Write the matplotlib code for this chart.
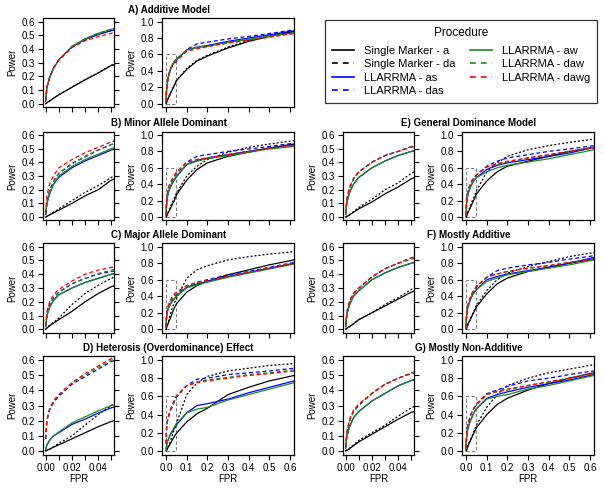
import matplotlib
matplotlib.use("Agg")
import matplotlib.pyplot as plt
from matplotlib.lines import Line2D
from matplotlib.patches import Rectangle

plt.rcParams['font.family'] = ['Liberation Sans', 'DejaVu Sans']

W, H = 604, 488

FPR = [0, 0.001, 0.003, 0.006, 0.01, 0.02, 0.03, 0.04, 0.05,
       0.1, 0.15, 0.2, 0.3, 0.4, 0.5, 0.62]

PROCEDURES = ["Single Marker - a", "Single Marker - da", "LLARRMA - as",
              "LLARRMA - das", "LLARRMA - aw", "LLARRMA - daw", "LLARRMA - dawg"]

# rows: a, da, as, das, aw, daw, dawg
POWER_A = [
    [0, 0.008, 0.02, 0.04, 0.065, 0.12, 0.175, 0.225, 0.28, 0.42, 0.52, 0.58, 0.68, 0.76, 0.82, 0.88],
    [0, 0.008, 0.02, 0.04, 0.066, 0.121, 0.176, 0.226, 0.282, 0.43, 0.53, 0.59, 0.69, 0.77, 0.83, 0.88],
    [0.02, 0.12, 0.19, 0.26, 0.32, 0.415, 0.47, 0.505, 0.535, 0.655, 0.69, 0.71, 0.76, 0.80, 0.84, 0.89],
    [0.02, 0.12, 0.19, 0.26, 0.32, 0.415, 0.47, 0.51, 0.535, 0.66, 0.73, 0.75, 0.79, 0.82, 0.855, 0.90],
    [0.02, 0.12, 0.19, 0.26, 0.32, 0.42, 0.475, 0.515, 0.545, 0.655, 0.685, 0.70, 0.75, 0.785, 0.82, 0.865],
    [0.02, 0.12, 0.19, 0.26, 0.32, 0.42, 0.475, 0.515, 0.545, 0.65, 0.68, 0.70, 0.74, 0.78, 0.82, 0.86],
    [0.02, 0.12, 0.19, 0.26, 0.32, 0.41, 0.46, 0.49, 0.515, 0.64, 0.67, 0.695, 0.74, 0.775, 0.81, 0.855],
]
POWER_B = [
    [0, 0.005, 0.015, 0.03, 0.05, 0.10, 0.155, 0.20, 0.27, 0.45, 0.58, 0.66, 0.74, 0.79, 0.84, 0.89],
    [0, 0.006, 0.018, 0.035, 0.06, 0.12, 0.18, 0.23, 0.29, 0.50, 0.62, 0.70, 0.79, 0.85, 0.89, 0.93],
    [0.02, 0.10, 0.17, 0.24, 0.29, 0.36, 0.41, 0.45, 0.49, 0.64, 0.69, 0.72, 0.76, 0.80, 0.84, 0.88],
    [0.02, 0.11, 0.19, 0.26, 0.32, 0.39, 0.44, 0.49, 0.53, 0.67, 0.74, 0.76, 0.80, 0.83, 0.86, 0.90],
    [0.02, 0.10, 0.17, 0.24, 0.30, 0.37, 0.42, 0.46, 0.50, 0.64, 0.68, 0.71, 0.75, 0.79, 0.83, 0.86],
    [0.02, 0.11, 0.19, 0.26, 0.32, 0.39, 0.445, 0.49, 0.53, 0.66, 0.70, 0.72, 0.76, 0.80, 0.84, 0.87],
    [0.03, 0.16, 0.24, 0.30, 0.36, 0.42, 0.47, 0.51, 0.55, 0.67, 0.70, 0.72, 0.76, 0.80, 0.84, 0.87],
]
POWER_C = [
    [0, 0.01, 0.025, 0.045, 0.07, 0.13, 0.20, 0.26, 0.31, 0.45, 0.53, 0.58, 0.66, 0.72, 0.78, 0.84],
    [0, 0.01, 0.03, 0.05, 0.08, 0.18, 0.26, 0.32, 0.37, 0.62, 0.72, 0.77, 0.84, 0.88, 0.91, 0.94],
    [0.02, 0.10, 0.16, 0.21, 0.25, 0.30, 0.34, 0.37, 0.40, 0.51, 0.55, 0.58, 0.64, 0.69, 0.74, 0.80],
    [0.02, 0.11, 0.18, 0.23, 0.27, 0.33, 0.37, 0.40, 0.42, 0.52, 0.57, 0.60, 0.66, 0.70, 0.75, 0.81],
    [0.02, 0.10, 0.16, 0.21, 0.25, 0.30, 0.34, 0.37, 0.40, 0.50, 0.54, 0.57, 0.63, 0.68, 0.73, 0.79],
    [0.02, 0.11, 0.18, 0.23, 0.27, 0.33, 0.37, 0.405, 0.43, 0.52, 0.56, 0.59, 0.64, 0.69, 0.74, 0.80],
    [0.03, 0.13, 0.20, 0.25, 0.29, 0.35, 0.40, 0.43, 0.45, 0.53, 0.57, 0.59, 0.64, 0.69, 0.74, 0.80],
]
POWER_D = [
    [0, 0.004, 0.012, 0.025, 0.04, 0.08, 0.12, 0.16, 0.195, 0.32, 0.41, 0.47, 0.62, 0.70, 0.77, 0.83],
    [0, 0.004, 0.012, 0.028, 0.05, 0.10, 0.17, 0.24, 0.30, 0.62, 0.75, 0.82, 0.88, 0.91, 0.94, 0.96],
    [0.01, 0.04, 0.07, 0.10, 0.12, 0.175, 0.21, 0.25, 0.285, 0.42, 0.50, 0.52, 0.57, 0.64, 0.70, 0.77],
    [0.08, 0.20, 0.27, 0.32, 0.36, 0.44, 0.49, 0.54, 0.59, 0.72, 0.79, 0.80, 0.84, 0.86, 0.88, 0.91],
    [0.01, 0.04, 0.07, 0.10, 0.125, 0.185, 0.225, 0.265, 0.30, 0.42, 0.46, 0.48, 0.56, 0.62, 0.68, 0.75],
    [0.08, 0.20, 0.27, 0.33, 0.37, 0.45, 0.50, 0.55, 0.60, 0.72, 0.76, 0.78, 0.81, 0.84, 0.86, 0.89],
    [0.08, 0.21, 0.28, 0.33, 0.37, 0.45, 0.51, 0.56, 0.61, 0.72, 0.75, 0.77, 0.80, 0.83, 0.85, 0.88],
]
POWER_E = [
    [0, 0.005, 0.015, 0.035, 0.06, 0.11, 0.17, 0.22, 0.28, 0.44, 0.55, 0.62, 0.68, 0.74, 0.80, 0.85],
    [0, 0.006, 0.018, 0.04, 0.07, 0.13, 0.20, 0.25, 0.32, 0.55, 0.66, 0.74, 0.82, 0.87, 0.91, 0.95],
    [0.02, 0.11, 0.18, 0.24, 0.29, 0.36, 0.41, 0.45, 0.48, 0.58, 0.63, 0.66, 0.70, 0.74, 0.78, 0.85],
    [0.02, 0.13, 0.21, 0.28, 0.33, 0.40, 0.45, 0.48, 0.515, 0.62, 0.68, 0.72, 0.76, 0.80, 0.83, 0.87],
    [0.02, 0.11, 0.18, 0.24, 0.29, 0.36, 0.41, 0.45, 0.48, 0.55, 0.60, 0.63, 0.67, 0.71, 0.76, 0.82],
    [0.02, 0.13, 0.21, 0.28, 0.33, 0.40, 0.45, 0.48, 0.515, 0.61, 0.64, 0.67, 0.72, 0.76, 0.80, 0.85],
    [0.03, 0.14, 0.22, 0.28, 0.33, 0.40, 0.45, 0.48, 0.51, 0.61, 0.65, 0.68, 0.72, 0.76, 0.80, 0.84],
]
POWER_F = [
    [0, 0.008, 0.02, 0.04, 0.07, 0.12, 0.17, 0.22, 0.27, 0.43, 0.55, 0.62, 0.70, 0.75, 0.80, 0.85],
    [0, 0.008, 0.02, 0.04, 0.07, 0.12, 0.18, 0.23, 0.29, 0.47, 0.60, 0.68, 0.76, 0.82, 0.88, 0.93],
    [0.02, 0.11, 0.18, 0.24, 0.28, 0.36, 0.41, 0.45, 0.48, 0.60, 0.64, 0.67, 0.71, 0.75, 0.80, 0.87],
    [0.02, 0.12, 0.20, 0.26, 0.30, 0.38, 0.44, 0.48, 0.52, 0.63, 0.71, 0.74, 0.78, 0.81, 0.85, 0.89],
    [0.02, 0.11, 0.18, 0.24, 0.28, 0.36, 0.41, 0.45, 0.48, 0.58, 0.62, 0.66, 0.70, 0.74, 0.78, 0.84],
    [0.02, 0.12, 0.20, 0.26, 0.30, 0.38, 0.44, 0.48, 0.52, 0.63, 0.67, 0.70, 0.74, 0.77, 0.81, 0.85],
    [0.03, 0.13, 0.21, 0.26, 0.30, 0.38, 0.44, 0.48, 0.51, 0.63, 0.67, 0.70, 0.74, 0.77, 0.81, 0.85],
]
POWER_G = [
    [0, 0.005, 0.015, 0.035, 0.06, 0.11, 0.16, 0.21, 0.255, 0.40, 0.51, 0.58, 0.67, 0.74, 0.80, 0.86],
    [0, 0.006, 0.018, 0.04, 0.07, 0.12, 0.17, 0.23, 0.285, 0.48, 0.62, 0.72, 0.80, 0.86, 0.90, 0.95],
    [0.02, 0.10, 0.16, 0.22, 0.26, 0.33, 0.38, 0.43, 0.465, 0.58, 0.62, 0.65, 0.70, 0.74, 0.78, 0.84],
    [0.02, 0.12, 0.20, 0.26, 0.30, 0.38, 0.44, 0.48, 0.515, 0.63, 0.67, 0.71, 0.77, 0.80, 0.84, 0.88],
    [0.02, 0.10, 0.16, 0.22, 0.26, 0.33, 0.38, 0.43, 0.465, 0.57, 0.60, 0.62, 0.68, 0.72, 0.77, 0.83],
    [0.02, 0.12, 0.20, 0.26, 0.30, 0.38, 0.44, 0.48, 0.515, 0.62, 0.65, 0.67, 0.72, 0.76, 0.80, 0.85],
    [0.03, 0.13, 0.21, 0.27, 0.31, 0.38, 0.44, 0.48, 0.51, 0.62, 0.66, 0.68, 0.72, 0.76, 0.80, 0.85],
]

TITLES = {
    "A": "A) Additive Model", "B": "B) Minor Allele Dominant",
    "C": "C) Major Allele Dominant", "D": "D) Heterosis (Overdominance) Effect",
    "E": "E) General Dominance Model", "F": "F) Mostly Additive",
    "G": "G) Mostly Non-Additive",
}

COLORS = ["black", "black", "#0000FF", "#0000FF", "#1E8B1E", "#1E8B1E", "#FF0000"]
STYLES = ["-", ":", "-", "--", "-", "--", "--"]

# pixel layout: rows (top, bottom), column x offsets
ROWS = [(18.4, 107.0), (131.7, 220.3), (243.4, 332.6), (356.4, 454.6)]
COL_X = [0, 300]
FS = 7


def px_axes(x0, x1, top, bottom):
    return fig.add_axes([x0 / W, 1 - bottom / H, (x1 - x0) / W, (bottom - top) / H])


def style_axis(ax, show_x):
    for s in ax.spines.values():
        s.set_linewidth(0.9)
    ax.tick_params(direction="out", length=3.5, width=0.8, labelsize=FS, pad=2.5)
    if not show_x:
        ax.tick_params(axis="x", labelbottom=False)


def draw_curves(ax, power):
    for vals, c, ls in zip(power, COLORS, STYLES):
        if ls == ":":
            ax.plot(FPR, vals, color=c, lw=0.9, dashes=(1.6, 1.6))
        elif ls == "--":
            ax.plot(FPR, vals, color=c, lw=0.9, dashes=(3.2, 2.2))
        else:
            ax.plot(FPR, vals, color=c, lw=0.9)


def panel(key, power, row, col, show_x):
    top, bottom = ROWS[row]
    off = COL_X[col]
    # small zoomed panel
    ax1 = px_axes(43 + off, 114 + off, top, bottom)
    draw_curves(ax1, power)
    ax1.set_xlim(-0.002, 0.052)
    ax1.set_ylim(-0.024, 0.624)
    ax1.set_xticks([0, 0.01, 0.02, 0.03, 0.04, 0.05])
    ax1.set_xticklabels(["0.00", "", "0.02", "", "0.04", ""])
    ax1.set_yticks([0, 0.1, 0.2, 0.3, 0.4, 0.5, 0.6])
    ax1.set_yticklabels(["0.0", "0.1", "0.2", "0.3", "0.4", "0.5", "0.6"])
    ax1.tick_params(axis="y", right=True)
    style_axis(ax1, show_x)
    ax1.set_ylabel("Power", fontsize=FS, labelpad=3)
    # full panel
    ax2 = px_axes(162 + off, 294 + off, top, bottom)
    draw_curves(ax2, power)
    ax2.add_patch(Rectangle((0, 0), 0.05, 0.6, fill=False, ec="#808080",
                            lw=0.8, ls=(0, (3, 2))))
    ax2.set_xlim(-0.02, 0.62)
    ax2.set_ylim(-0.04, 1.04)
    ax2.set_xticks([0, 0.1, 0.2, 0.3, 0.4, 0.5, 0.6])
    ax2.set_xticklabels(["0.0", "0.1", "0.2", "0.3", "0.4", "0.5", "0.6"])
    ax2.set_yticks([0, 0.2, 0.4, 0.6, 0.8, 1.0])
    ax2.set_yticklabels(["0.0", "0.2", "0.4", "0.6", "0.8", "1.0"])
    style_axis(ax2, show_x)
    ax2.set_ylabel("Power", fontsize=FS, labelpad=3)
    if show_x:
        ax1.set_xlabel("FPR", fontsize=FS, labelpad=1)
        ax2.set_xlabel("FPR", fontsize=FS, labelpad=1)
    fig.text((168.5 + off) / W, 1 - (top - 8.5) / H, TITLES[key],
             ha="center", va="center", fontsize=7, fontweight="bold")


fig = plt.figure(figsize=(W / 100, H / 100), dpi=100)

panel("A", POWER_A, 0, 0, False)
panel("B", POWER_B, 1, 0, False)
panel("C", POWER_C, 2, 0, False)
panel("D", POWER_D, 3, 0, True)
panel("E", POWER_E, 1, 1, False)
panel("F", POWER_F, 2, 1, False)
panel("G", POWER_G, 3, 1, True)

# legend
handles = []
for lab, c, ls in zip(PROCEDURES, COLORS, STYLES):
    if ls == "-":
        handles.append(Line2D([], [], color=c, lw=1.2, label=lab))
    else:
        handles.append(Line2D([], [], color=c, lw=1.2, dashes=(3.5, 3), label=lab))
leg = fig.legend(handles=handles, ncol=2, title="Procedure",
                 loc="upper left", bbox_to_anchor=(325 / W, 1 - 20 / H),
                 borderaxespad=0,
                 fontsize=8, title_fontsize=8.5, frameon=True, fancybox=False,
                 edgecolor="black", handlelength=2.0, handletextpad=0.9,
                 columnspacing=1.3, labelspacing=0.32, borderpad=0.6)
leg.get_frame().set_linewidth(0.9)
leg._legend_box.sep = 5

fig.savefig("out.png", dpi=100)
